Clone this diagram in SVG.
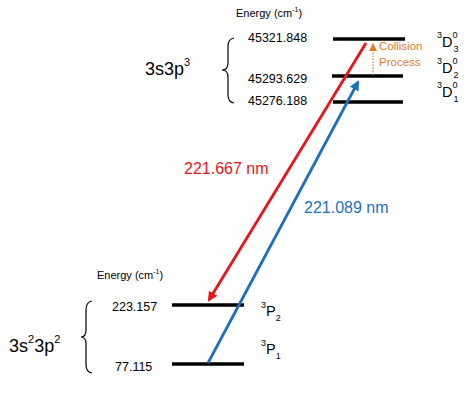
<svg xmlns="http://www.w3.org/2000/svg" width="474" height="397" viewBox="0 0 474 397">
<defs>
<style>
text{font-family:"Liberation Sans",Arial,sans-serif;fill:#000}
.lvl{stroke:#000;stroke-width:3.5}
.val{font-size:12.5px}
.hdr{font-size:11px}
.big{font-size:18px}
.term{font-size:14.5px}
.tsm{font-size:9px}
.brace{fill:none;stroke:#000;stroke-width:1.2}
</style>
<marker id="ahRed" markerWidth="10" markerHeight="10" refX="8" refY="5" orient="auto" markerUnits="userSpaceOnUse" viewBox="0 0 10 10">
<path d="M0,0 L10,5 L0,10 z" fill="#e8141c"/>
</marker>
<marker id="ahBlue" markerWidth="10" markerHeight="10" refX="8" refY="5" orient="auto" markerUnits="userSpaceOnUse" viewBox="0 0 10 10">
<path d="M0,0 L10,5 L0,10 z" fill="#1f6fbf"/>
</marker>
<marker id="ahOr" markerWidth="8" markerHeight="8" refX="7" refY="4" orient="auto" markerUnits="userSpaceOnUse" viewBox="0 0 8 8">
<path d="M0,0 L8,4 L0,8 z" fill="#e07b27"/>
</marker>
</defs>

<g id="upper-levels">
<text class="hdr" x="236" y="17">Energy (cm<tspan dy="-5" font-size="7px">-1</tspan><tspan dy="5">)</tspan></text>
<text class="big" x="145" y="75">3s3p<tspan dy="-9" font-size="11px">3</tspan></text>
<path class="brace" d="M234,38 Q228,39 228,46 L228,63 Q228,70 222,70 Q228,70 228,77 L228,95 Q228,102 234,103"/>
</g>

<g id="level-3D3">
<line class="lvl" x1="333" y1="39" x2="405" y2="39"/>
<text class="val" x="248" y="42">45321.848</text>
<text x="437" y="38"><tspan class="tsm">3</tspan><tspan class="term" dy="9">D</tspan><tspan class="tsm" dy="-9">0</tspan><tspan class="tsm" dx="-4" dy="14">3</tspan></text>
</g>
<g id="level-3D2">
<line class="lvl" x1="332" y1="76" x2="403" y2="76"/>
<text class="val" x="248" y="83">45293.629</text>
<text x="437" y="64"><tspan class="tsm">3</tspan><tspan class="term" dy="9">D</tspan><tspan class="tsm" dy="-9">0</tspan><tspan class="tsm" dx="-4" dy="14">2</tspan></text>
</g>
<g id="level-3D1">
<line class="lvl" x1="333" y1="102" x2="403" y2="102"/>
<text class="val" x="248" y="105">45276.188</text>
<text x="437" y="88"><tspan class="tsm">3</tspan><tspan class="term" dy="9">D</tspan><tspan class="tsm" dy="-9">0</tspan><tspan class="tsm" dx="-4" dy="14">1</tspan></text>
</g>

<g id="lower-levels">
<text class="hdr" x="97" y="279">Energy (cm<tspan dy="-5" font-size="7px">-1</tspan><tspan dy="5">)</tspan></text>
<text class="big" x="9" y="352">3s<tspan dy="-9" font-size="11px">2</tspan><tspan dy="9">3p</tspan><tspan dy="-9" font-size="11px">2</tspan></text>
<path class="brace" d="M92,301 Q86,302 86,310 L86,330 Q86,337 81,337 Q86,337 86,344 L86,365 Q86,372 92,373"/>
</g>

<g id="level-3P2">
<line class="lvl" x1="172" y1="305" x2="244" y2="305"/>
<text class="val" x="112" y="311">223.157</text>
<text x="261" y="308"><tspan class="tsm">3</tspan><tspan class="term" dy="8">P</tspan><tspan class="tsm" dy="5">2</tspan></text>
</g>
<g id="level-3P1">
<line class="lvl" x1="172" y1="364" x2="244" y2="364"/>
<text class="val" x="115" y="371">77.115</text>
<text x="261" y="346"><tspan class="tsm">3</tspan><tspan class="term" dy="8">P</tspan><tspan class="tsm" dy="5">1</tspan></text>
</g>

<g id="connectors">
<line x1="366" y1="43" x2="209" y2="300" stroke="#e8141c" stroke-width="2.8" marker-end="url(#ahRed)"/>
<line x1="208" y1="363" x2="358" y2="82" stroke="#1f6fbf" stroke-width="2.8" marker-end="url(#ahBlue)"/>
<line x1="373" y1="75" x2="373" y2="44" stroke="#e07b27" stroke-width="1.2" stroke-dasharray="1.5,1.5" marker-end="url(#ahOr)"/>
<text x="184" y="174" font-size="16px" style="fill:#e8141c">221.667 nm</text>
<text x="304" y="213" font-size="16px" style="fill:#1f6fbf">221.089 nm</text>
<text x="379" y="50" font-size="11.5px" style="fill:#e07b27">Collision</text>
<text x="379" y="66" font-size="11.5px" style="fill:#e07b27">Process</text>
</g>
</svg>
